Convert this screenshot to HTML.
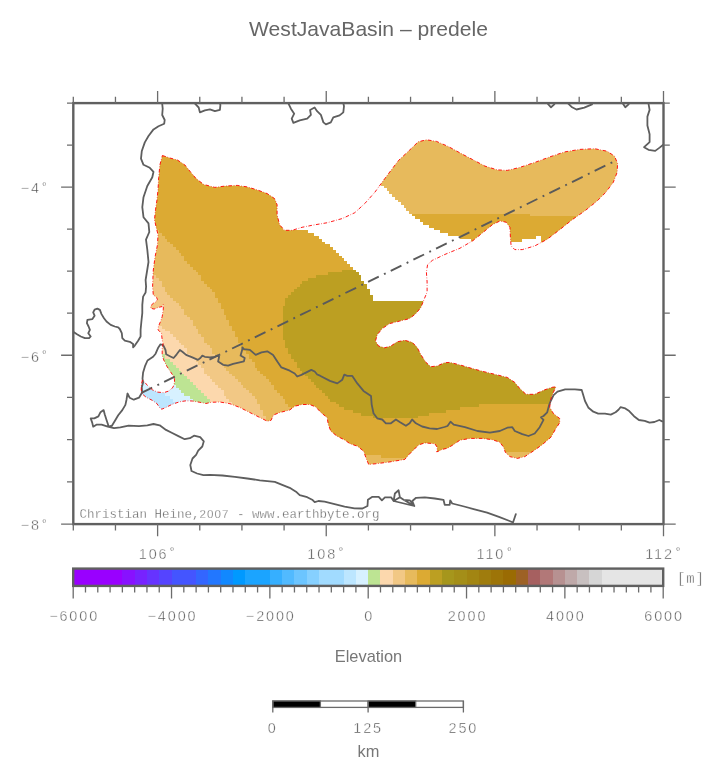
<!DOCTYPE html>
<html lang="en"><head><meta charset="utf-8"><title>WestJavaBasin – predele</title>
<style>html,body{margin:0;padding:0;background:#fff}body{width:722px;height:778px;overflow:hidden}svg{display:block}.m{font-family:"Liberation Mono","DejaVu Sans Mono",monospace;fill:#505050;stroke:#fff;stroke-width:0.55px}.n{font-family:"Liberation Sans","DejaVu Sans",sans-serif;fill:#505050;stroke:#fff;stroke-width:0.42px}.s{font-family:"Liberation Sans","DejaVu Sans",sans-serif;fill:#666}</style></head><body>
<svg width="722" height="778" viewBox="0 0 722 778">
<rect width="722" height="778" fill="#fff"/>
<defs><clipPath id="basin"><path d="M162.4 155.5L169.9 158.0L177.4 160.0L184.9 165.0L189.9 171.2L196.1 178.6L203.6 184.4L214.8 187.4L224.8 186.1L237.2 185.4L247.2 186.9L257.2 189.9L267.2 193.6L274.6 198.6L277.1 204.8L277.1 214.8L279.6 224.8L284.6 230.3L292.1 230.3L302.1 227.3L312.5 225.2L327.4 222.7L342.4 218.5L354.8 212.7L364.8 203.5L374.8 192.3L384.8 178.6L398.3 160.7L409.7 150.0L418.2 141.8L426.5 139.8L436.5 141.4L448.1 146.4L463.1 154.6L472.5 159.5L484.9 166.1L497.4 169.9L507.4 170.4L519.8 167.4L534.8 162.4L549.8 156.9L564.7 151.9L579.7 149.4L594.6 148.7L607.1 151.2L614.6 156.2L617.6 163.6L617.1 172.4L613.3 182.3L605.8 192.3L597.1 201.0L584.7 211.0L572.2 219.7L559.7 229.7L547.3 239.2L534.8 245.9L522.3 249.6L514.8 249.6L511.1 245.9L510.4 237.2L509.9 227.2L506.1 222.2L499.9 221.0L492.4 224.7L482.6 232.8L473.0 240.6L460.0 248.2L445.0 254.4L432.3 260.4L427.6 264.6L426.4 272.1L427.1 282.0L427.1 292.0L423.4 301.1L420.9 307.4L415.9 313.6L409.6 318.6L399.7 321.1L389.7 323.6L382.2 328.6L377.2 334.8L375.5 341.0L378.5 346.0L384.7 347.8L390.9 346.0L397.2 341.8L404.7 340.3L412.1 342.3L417.1 347.3L420.9 354.7L425.8 362.2L430.8 366.7L437.1 366.0L444.5 362.7L450.0 362.4L459.9 364.9L472.4 368.6L484.9 371.9L497.3 374.9L507.3 377.4L514.8 382.4L519.8 388.6L526.0 394.3L534.7 394.3L544.7 389.8L552.2 387.3L555.9 386.8L553.4 392.3L550.9 398.6L549.7 407.3L553.4 413.5L559.7 418.5L559.7 422.7L555.9 428.5L550.9 437.2L542.2 444.7L533.5 450.9L524.8 456.6L517.3 458.4L509.8 456.6L505.3 452.2L503.6 447.2L499.8 442.2L492.4 439.7L482.4 438.4L469.9 438.4L459.9 440.2L452.5 445.2L447.5 448.2L442.2 449.4L436.8 451.9L437.3 447.4L434.8 443.7L424.8 442.9L418.6 444.9L413.6 449.9L408.6 454.9L404.8 459.4L389.9 461.9L377.4 463.6L368.7 464.4L366.2 458.6L363.7 451.2L357.5 446.2L350.0 443.7L344.6 439.9L337.1 436.2L330.9 431.2L328.4 424.9L327.1 417.5L320.9 412.5L315.9 407.0L309.7 404.5L302.2 404.5L294.7 406.2L289.7 410.0L279.8 412.5L273.5 415.0L271.0 420.4L267.3 421.2L259.8 417.5L249.8 412.5L239.9 407.5L229.9 403.7L219.9 402.0L211.0 402.3L206.0 403.5L199.8 402.3L192.3 401.0L186.1 400.8L179.9 401.7L172.4 404.2L166.2 407.3L161.8 409.2L159.9 407.9L156.8 403.5L152.4 400.4L146.2 397.3L142.5 394.2L141.2 389.8L141.5 383.6L142.5 379.9L144.3 381.7L147.5 385.5L152.4 389.8L157.4 392.1L163.7 392.7L168.6 391.1L173.0 387.3L174.6 382.4L174.3 377.4L170.5 371.8L166.8 366.2L163.7 359.9L162.2 354.9L162.2 348.7L163.0 343.7L162.2 339.8L161.4 333.2L158.1 329.9L158.4 326.5L160.5 321.5L162.2 316.6L163.3 309.1L163.3 304.5L162.0 306.6L158.3 307.4L154.1 309.1L150.8 308.2L150.8 305.7L153.3 303.3L155.8 302.0L157.4 299.5L156.6 297.4L153.3 294.9L152.6 286.6L152.9 278.3L153.3 270.0L153.7 267.2L155.0 257.2L157.5 244.7L158.0 234.7L156.2 227.3L154.5 219.8L155.5 209.8L157.0 199.8L158.0 189.9L158.7 177.4L159.9 164.9Z"/></clipPath><clipPath id="frame"><rect x="73.3" y="103.1" width="590.2" height="421"/></clipPath></defs>
<g clip-path="url(#basin)" shape-rendering="crispEdges">
<path fill="#dcaa33" d="M161 152h214v3h-214zM160 155h215v3h-215zM160 158h215v2h-215zM159 160h216v3h-216zM158 163h217v3h-217zM158 166h217v3h-217zM158 169h217v3h-217zM157 172h218v2h-218zM157 174h210v3h-210zM370 174h5v3h-5zM157 177h204v3h-204zM157 180h199v3h-199zM157 183h193v3h-193zM157 186h185v2h-185zM156 188h180v3h-180zM156 191h174v3h-174zM156 194h169v3h-169zM155 197h161v3h-161zM155 200h156v2h-156zM155 202h150v3h-150zM154 205h146v3h-146zM154 208h137v3h-137zM154 211h131v3h-131zM153 214h127v2h-127zM412 214h118v2h-118zM153 216h127v3h-127zM415 216h165v3h-165zM153 219h127v3h-127zM420 219h155v3h-155zM153 222h127v3h-127zM423 222h148v3h-148zM154 225h129v3h-129zM429 225h139v3h-139zM156 228h127v2h-127zM434 228h130v2h-130zM159 230h149v3h-149zM440 230h121v3h-121zM162 233h152v3h-152zM448 233h110v3h-110zM165 236h154v3h-154zM460 236h76v3h-76zM541 236h13v3h-13zM167 239h155v3h-155zM471 239h51v3h-51zM541 239h9v3h-9zM170 242h155v2h-155zM482 242h23v2h-23zM541 242h4v2h-4zM173 244h157v3h-157zM491 244h14v3h-14zM176 247h157v3h-157zM488 247h17v3h-17zM179 250h157v3h-157zM488 250h17v3h-17zM181 253h158v3h-158zM184 256h158v2h-158zM184 258h160v3h-160zM187 261h160v3h-160zM190 264h160v3h-160zM193 267h160v3h-160zM196 270h146v2h-146zM198 272h130v3h-130zM201 275h115v3h-115zM201 278h107v3h-107zM204 281h98v3h-98zM207 284h93v3h-93zM210 287h87v2h-87zM212 289h82v3h-82zM215 292h76v3h-76zM215 295h73v3h-73zM218 298h67v3h-67zM218 301h67v2h-67zM221 303h64v3h-64zM221 306h62v3h-62zM224 309h59v3h-59zM224 312h59v3h-59zM226 315h57v2h-57zM226 317h57v3h-57zM229 320h54v3h-54zM229 323h54v3h-54zM232 326h51v3h-51zM232 329h51v2h-51zM235 331h48v3h-48zM235 334h48v3h-48zM238 337h45v3h-45zM238 340h47v3h-47zM241 343h44v2h-44zM241 345h44v3h-44zM243 348h45v3h-45zM246 351h42v3h-42zM249 354h42v3h-42zM249 357h42v2h-42zM252 359h42v3h-42zM255 362h42v3h-42zM255 365h42v3h-42zM257 368h43v3h-43zM260 371h42v3h-42zM263 374h42v2h-42zM266 376h42v3h-42zM269 379h42v3h-42zM271 382h43v3h-43zM274 385h42v3h-42zM274 388h45v2h-45zM277 390h45v3h-45zM280 393h45v3h-45zM283 396h45v3h-45zM285 399h45v3h-45zM285 402h51v2h-51zM288 404h51v3h-51zM479 404h73v3h-73zM291 407h53v3h-53zM460 407h93v3h-93zM294 410h59v3h-59zM446 410h109v3h-109zM294 413h67v3h-67zM429 413h130v3h-130zM297 416h76v2h-76zM418 416h143v2h-143zM297 418h264v3h-264zM297 421h264v3h-264zM327 424h234v3h-234zM328 427h231v3h-231zM329 430h228v3h-228zM331 433h224v2h-224zM333 435h221v3h-221zM338 438h214v3h-214zM344 441h205v3h-205zM348 444h197v3h-197zM356 447h185v2h-185zM359 449h179v3h-179zM362 452h143v3h-143zM381 455h124v3h-124zM409 458h96v3h-96z"/>
<path fill="#e7ba5c" d="M418 138h20v3h-20zM414 141h31v3h-31zM412 144h38v2h-38zM409 146h191v3h-191zM406 149h205v3h-205zM375 152h240v3h-240zM375 155h242v3h-242zM375 158h243v2h-243zM375 160h244v3h-244zM375 163h244v3h-244zM375 166h244v3h-244zM375 169h244v3h-244zM375 172h244v2h-244zM375 174h243v3h-243zM375 177h242v3h-242zM378 180h238v3h-238zM381 183h234v3h-234zM384 186h228v2h-228zM387 188h224v3h-224zM389 191h220v3h-220zM392 194h214v3h-214zM395 197h208v3h-208zM398 200h202v2h-202zM401 202h197v3h-197zM404 205h190v3h-190zM406 208h185v3h-185zM409 211h178v3h-178zM530 214h53v2h-53zM155 228h1v2h-1zM155 230h4v3h-4zM156 233h6v3h-6zM156 236h9v3h-9zM156 239h11v3h-11zM156 242h14v2h-14zM155 244h18v3h-18zM155 247h21v3h-21zM154 250h25v3h-25zM154 253h27v3h-27zM153 256h31v2h-31zM153 258h31v3h-31zM153 261h34v3h-34zM152 264h38v3h-38zM152 267h41v3h-41zM152 270h44v2h-44zM153 272h45v3h-45zM156 275h45v3h-45zM159 278h42v3h-42zM162 281h42v3h-42zM162 284h45v3h-45zM165 287h45v2h-45zM165 289h47v3h-47zM167 292h48v3h-48zM170 295h45v3h-45zM173 298h45v3h-45zM176 301h42v2h-42zM179 303h42v3h-42zM181 306h40v3h-40zM184 309h40v3h-40zM184 312h40v3h-40zM187 315h39v2h-39zM190 317h36v3h-36zM193 320h36v3h-36zM193 323h36v3h-36zM196 326h36v3h-36zM198 329h34v2h-34zM198 331h37v3h-37zM201 334h34v3h-34zM204 337h34v3h-34zM204 340h34v3h-34zM207 343h34v2h-34zM210 345h31v3h-31zM212 348h31v3h-31zM212 351h34v3h-34zM215 354h34v3h-34zM218 357h31v2h-31zM218 359h34v3h-34zM221 362h34v3h-34zM224 365h31v3h-31zM226 368h31v3h-31zM229 371h31v3h-31zM232 374h31v2h-31zM235 376h31v3h-31zM238 379h31v3h-31zM241 382h30v3h-30zM243 385h31v3h-31zM246 388h28v2h-28zM249 390h28v3h-28zM252 393h28v3h-28zM255 396h28v3h-28zM257 399h28v3h-28zM257 402h28v2h-28zM260 404h28v3h-28zM260 407h31v3h-31zM263 410h31v3h-31zM263 413h31v3h-31zM266 416h31v2h-31zM266 418h31v3h-31zM269 421h28v3h-28zM505 452h29v3h-29zM363 455h18v3h-18zM505 455h25v3h-25zM364 458h45v3h-45zM505 458h18v3h-18zM366 461h34v3h-34zM367 464h13v2h-13z"/>
<path fill="#f2c885" d="M152 272h1v3h-1zM151 275h5v3h-5zM151 278h8v3h-8zM151 281h11v3h-11zM151 284h11v3h-11zM151 287h14v2h-14zM151 289h14v3h-14zM152 292h15v3h-15zM152 295h18v3h-18zM155 298h18v3h-18zM153 301h23v2h-23zM149 303h30v3h-30zM149 306h32v3h-32zM150 309h34v3h-34zM161 312h23v3h-23zM160 315h27v2h-27zM159 317h31v3h-31zM158 320h35v3h-35zM159 323h34v3h-34zM162 326h34v3h-34zM165 329h33v2h-33zM170 331h28v3h-28zM173 334h28v3h-28zM176 337h28v3h-28zM179 340h25v3h-25zM181 343h26v2h-26zM184 345h26v3h-26zM187 348h25v3h-25zM187 351h25v3h-25zM190 354h25v3h-25zM193 357h25v2h-25zM196 359h22v3h-22zM198 362h23v3h-23zM201 365h23v3h-23zM204 368h22v3h-22zM204 371h25v3h-25zM207 374h25v2h-25zM210 376h25v3h-25zM212 379h26v3h-26zM215 382h26v3h-26zM218 385h25v3h-25zM221 388h25v2h-25zM224 390h25v3h-25zM224 393h28v3h-28zM226 396h29v3h-29zM229 399h28v3h-28zM232 402h25v2h-25zM232 404h28v3h-28zM235 407h25v3h-25zM242 410h21v3h-21zM248 413h15v3h-15zM254 416h12v2h-12zM258 418h8v3h-8zM264 421h5v3h-5z"/>
<path fill="#fcd8ad" d="M157 323h2v3h-2zM157 326h5v3h-5zM157 329h8v2h-8zM157 331h13v3h-13zM160 334h13v3h-13zM160 337h16v3h-16zM161 340h18v3h-18zM161 343h20v2h-20zM161 345h23v3h-23zM161 348h26v3h-26zM162 351h25v3h-25zM165 354h25v3h-25zM165 357h28v2h-28zM170 359h26v3h-26zM173 362h25v3h-25zM176 365h25v3h-25zM179 368h25v3h-25zM181 371h23v3h-23zM184 374h23v2h-23zM187 376h23v3h-23zM190 379h22v3h-22zM193 382h22v3h-22zM196 385h22v3h-22zM198 388h23v2h-23zM201 390h23v3h-23zM204 393h20v3h-20zM207 396h19v3h-19zM210 399h19v3h-19zM212 402h20v2h-20zM215 404h17v3h-17zM218 407h17v3h-17z"/>
<path fill="#bde493" d="M161 351h1v3h-1zM161 354h4v3h-4zM161 357h4v2h-4zM162 359h8v3h-8zM163 362h10v3h-10zM164 365h12v3h-12zM166 368h13v3h-13zM168 371h13v3h-13zM170 374h14v2h-14zM172 376h15v3h-15zM173 379h17v3h-17zM173 382h20v3h-20zM176 385h20v3h-20zM179 388h19v2h-19zM181 390h20v3h-20zM184 393h20v3h-20zM190 396h17v3h-17zM193 399h17v3h-17zM196 402h16v2h-16zM198 404h17v3h-17zM198 407h20v3h-20z"/>
<path fill="#d7f1ff" d="M140 379h33v3h-33zM140 382h33v3h-33zM140 385h36v3h-36zM140 388h39v2h-39zM162 390h19v3h-19zM165 393h19v3h-19zM170 396h20v3h-20zM173 399h20v3h-20zM176 402h20v2h-20zM179 404h19v3h-19zM179 407h19v3h-19z"/>
<path fill="#bce6ff" d="M140 390h22v3h-22zM140 393h25v3h-25zM143 396h27v3h-27zM147 399h26v3h-26zM152 402h24v2h-24zM155 404h24v3h-24zM157 407h22v3h-22z"/>
<path fill="#bc9f22" d="M342 270h14v2h-14zM328 272h31v3h-31zM316 275h45v3h-45zM308 278h53v3h-53zM302 281h62v3h-62zM300 284h67v3h-67zM297 287h70v2h-70zM294 289h76v3h-76zM291 292h79v3h-79zM288 295h85v3h-85zM285 298h88v3h-88zM285 301h140v2h-140zM285 303h139v3h-139zM283 306h140v3h-140zM283 309h139v3h-139zM283 312h136v3h-136zM283 315h133v2h-133zM283 317h131v3h-131zM283 320h125v3h-125zM283 323h113v3h-113zM283 326h105v3h-105zM283 329h101v2h-101zM283 331h99v3h-99zM283 334h97v3h-97zM283 337h124v3h-124zM285 340h130v3h-130zM285 343h132v2h-132zM285 345h134v3h-134zM288 348h133v3h-133zM288 351h134v3h-134zM291 354h133v3h-133zM291 357h135v2h-135zM294 359h158v3h-158zM297 362h166v3h-166zM297 365h177v3h-177zM300 368h185v3h-185zM302 371h195v3h-195zM305 374h200v2h-200zM308 376h204v3h-204zM311 379h205v3h-205zM314 382h205v3h-205zM316 385h241v3h-241zM319 388h238v2h-238zM322 390h234v3h-234zM325 393h230v3h-230zM328 396h226v3h-226zM330 399h222v3h-222zM336 402h216v2h-216zM339 404h140v3h-140zM344 407h116v3h-116zM353 410h93v3h-93zM361 413h68v3h-68zM373 416h45v2h-45z"/>
</g>
<g clip-path="url(#frame)" fill="none" stroke="#5e5e5e" stroke-width="1.8" stroke-linejoin="round" stroke-linecap="round">
<path d="M162.2 103.7L162.7 108.7L162.2 115.0L164.7 120.0L164.2 123.7L158.5 126.2L153.5 129.4L148.5 136.0L144.8 142.4L141.8 151.0L141.0 158.6L143.5 164.8L149.8 167.8L153.5 171.8L152.3 177.3L147.3 186.0L143.5 197.2L142.3 207.2L143.5 217.2L148.5 223.4L149.3 232.0L146.0 239.6L147.3 249.6L148.5 262.0L147.3 269.5L145.6 280.0L146.1 286.6L145.6 292.5L143.1 296.6L142.3 304.9L142.3 313.2L141.4 321.5L140.6 329.9L140.6 336.5L138.1 340.7L134.8 345.6L133.1 347.3L133.1 344.0L129.8 341.8L124.8 340.7L122.3 338.2L121.8 333.2L119.8 329.0L118.2 327.4L114.8 326.5L110.7 324.9L106.5 321.5L104.0 318.2L101.5 314.1L99.9 309.9L97.4 308.6L94.6 309.6L93.2 312.4L94.6 315.7L92.4 319.1L87.4 319.9L86.9 323.2L88.6 326.5L89.9 329.9L88.3 333.2L90.7 336.5L89.1 338.2L84.9 338.2L80.8 336.5L76.6 334.0L73.6 331.9M163.0 345.0L160.5 344.3L158.0 348.1L155.6 353.7L153.1 356.8L147.5 360.5L145.0 366.2L143.1 372.4L142.5 378.6L143.1 382.4L141.8 387.3L142.1 392.5L139.0 397.7L133.8 399.7L129.6 397.7L127.5 393.5L126.5 399.7L125.4 404.9L122.3 410.1L118.2 415.3L115.1 420.5L111.9 425.7L108.8 426.7L106.7 420.5L104.7 414.3L103.6 410.1L100.5 412.2L98.4 416.4L94.3 418.4L90.7 418.4L92.2 422.6L93.2 426.7L96.4 424.7L101.6 424.7L107.8 426.7L114.0 428.2L120.3 427.4L128.6 425.7L139.0 426.1L147.3 425.3L153.5 424.0L159.7 425.3L166.0 429.9L172.2 433.0L178.4 436.1L184.7 439.2L189.9 438.2L194.0 435.7L200.2 437.1L203.8 441.3L202.3 446.5L198.2 450.6L196.1 454.8L192.5 458.5L190.3 465.0L191.5 471.0L197.1 473.5L203.4 475.2L209.9 474.8L222.4 475.5L234.9 476.8L247.3 478.5L259.8 480.3L274.8 481.8L282.2 484.8L289.7 487.8L296.0 491.7L299.7 495.2L307.2 497.2L312.2 499.7L314.7 502.2L318.4 501.0L324.6 501.7L334.6 504.2L344.6 506.7L354.5 508.4L362.5 508.5L367.5 506.0L367.9 499.8L372.4 496.8L378.7 496.8L381.9 500.3L384.9 497.3L391.1 497.3L393.6 501.0L399.9 497.3L403.6 499.8L409.8 500.3L414.3 506.0L412.3 501.0L416.1 497.8L424.8 497.3L434.8 498.5L443.5 499.8L444.7 504.8L449.7 504.8L450.2 500.3L452.2 503.5L462.2 506.0L474.6 509.3L487.1 512.7L499.6 517.2L509.6 521.0L513.0 522.5L515.8 514.2M393.6 501.0L394.9 493.5L398.6 490.3L399.9 497.3L403.6 499.8L414.3 506.0L393.6 501.0M163.0 345.0L163.7 346.2L165.5 350.0L166.2 354.3L169.9 356.2L173.6 358.0L176.7 354.3L179.9 350.0L182.4 351.8L186.1 354.9L192.3 357.4L197.9 359.9L200.4 358.0L202.3 355.6L204.8 356.8L209.8 357.4L214.8 356.8L217.3 355.6L219.1 356.8L218.1 361.4L223.1 364.8L228.1 365.6L233.1 363.9L239.7 362.3L243.9 361.4L244.7 358.1L240.6 355.6L242.2 349.8L242.4 347.5L244.0 349.1L249.9 349.9L255.7 354.9L261.5 352.4L267.3 351.3L273.1 354.9L277.3 361.6L281.4 367.4L289.7 370.7L294.7 373.5L297.2 376.5L301.4 374.9L306.4 372.4L311.3 369.9L314.7 371.5L317.2 374.5L320.0 375.7L329.9 380.9L337.3 383.4L342.3 379.7L344.3 374.7L347.3 375.9L352.3 375.9L357.3 383.4L363.5 390.9L371.0 395.9L371.7 404.6L373.5 413.3L377.2 418.3L382.2 419.5L385.9 423.3L390.9 423.3L395.9 419.5L399.7 422.0L405.9 425.8L409.6 423.3L412.1 419.5L415.9 423.3L422.1 426.5L429.6 428.3L437.1 429.0L444.5 427.0L447.5 426.0L450.5 421.7L453.7 424.7L464.9 427.2L477.4 431.0L489.9 432.7L499.8 431.0L507.3 427.7L512.3 427.2L514.8 431.0L522.3 434.2L528.5 436.0L534.7 433.5L539.7 427.2L543.5 419.8L541.0 417.3L543.5 416.0L547.2 412.3L549.2 404.8L550.7 401.0L553.6 395.2L557.5 391.7L565.2 389.4L574.9 389.4L581.7 390.0L583.0 394.2L585.0 401.0L588.5 407.8L593.3 411.7L598.2 413.6L605.0 413.6L610.8 414.6L615.6 412.3L618.5 409.8L620.5 407.2L625.3 408.4L629.2 411.1L634.0 416.2L638.9 420.0L644.7 420.8L649.6 422.7L654.4 422.0L659.3 420.0L662.2 421.4M195.0 103.7L198.7 107.5L199.9 112.4L204.9 110.4L209.9 109.4L214.9 111.2L219.9 109.9L220.4 105.0L219.9 103.0M288.5 103.7L290.9 108.7L294.2 113.7L291.7 118.7L293.4 122.9L299.7 120.4L307.2 118.7L310.9 114.9L310.1 110.0L314.6 107.5L317.1 111.2L320.9 114.9L323.4 122.4L325.9 124.4L330.8 122.4L333.3 117.4L339.6 115.4L343.3 112.4L344.0 106.2L343.3 103.0M547.7 103.7L551.0 107.3L554.3 104.4M568.3 103.7L572.1 107.3L576.5 109.5L584.3 107.7L592.0 104.4M623.0 103.7L625.3 107.3L628.6 104.4M648.5 103.7L649.6 109.9L647.4 116.6L647.4 125.5L649.6 134.3L649.6 142.1L644.1 147.2L648.5 149.8L655.2 150.9L659.6 147.6L662.9 145.0"/>
</g>
<path d="M141.5 392.9L612.5 162.2" fill="none" stroke="#5a5a5a" stroke-width="1.9" stroke-dasharray="11.9 5.8 1.9 5.63"/>
<path d="M162.4 155.5L169.9 158.0L177.4 160.0L184.9 165.0L189.9 171.2L196.1 178.6L203.6 184.4L214.8 187.4L224.8 186.1L237.2 185.4L247.2 186.9L257.2 189.9L267.2 193.6L274.6 198.6L277.1 204.8L277.1 214.8L279.6 224.8L284.6 230.3L292.1 230.3L302.1 227.3L312.5 225.2L327.4 222.7L342.4 218.5L354.8 212.7L364.8 203.5L374.8 192.3L384.8 178.6L398.3 160.7L409.7 150.0L418.2 141.8L426.5 139.8L436.5 141.4L448.1 146.4L463.1 154.6L472.5 159.5L484.9 166.1L497.4 169.9L507.4 170.4L519.8 167.4L534.8 162.4L549.8 156.9L564.7 151.9L579.7 149.4L594.6 148.7L607.1 151.2L614.6 156.2L617.6 163.6L617.1 172.4L613.3 182.3L605.8 192.3L597.1 201.0L584.7 211.0L572.2 219.7L559.7 229.7L547.3 239.2L534.8 245.9L522.3 249.6L514.8 249.6L511.1 245.9L510.4 237.2L509.9 227.2L506.1 222.2L499.9 221.0L492.4 224.7L482.6 232.8L473.0 240.6L460.0 248.2L445.0 254.4L432.3 260.4L427.6 264.6L426.4 272.1L427.1 282.0L427.1 292.0L423.4 301.1L420.9 307.4L415.9 313.6L409.6 318.6L399.7 321.1L389.7 323.6L382.2 328.6L377.2 334.8L375.5 341.0L378.5 346.0L384.7 347.8L390.9 346.0L397.2 341.8L404.7 340.3L412.1 342.3L417.1 347.3L420.9 354.7L425.8 362.2L430.8 366.7L437.1 366.0L444.5 362.7L450.0 362.4L459.9 364.9L472.4 368.6L484.9 371.9L497.3 374.9L507.3 377.4L514.8 382.4L519.8 388.6L526.0 394.3L534.7 394.3L544.7 389.8L552.2 387.3L555.9 386.8L553.4 392.3L550.9 398.6L549.7 407.3L553.4 413.5L559.7 418.5L559.7 422.7L555.9 428.5L550.9 437.2L542.2 444.7L533.5 450.9L524.8 456.6L517.3 458.4L509.8 456.6L505.3 452.2L503.6 447.2L499.8 442.2L492.4 439.7L482.4 438.4L469.9 438.4L459.9 440.2L452.5 445.2L447.5 448.2L442.2 449.4L436.8 451.9L437.3 447.4L434.8 443.7L424.8 442.9L418.6 444.9L413.6 449.9L408.6 454.9L404.8 459.4L389.9 461.9L377.4 463.6L368.7 464.4L366.2 458.6L363.7 451.2L357.5 446.2L350.0 443.7L344.6 439.9L337.1 436.2L330.9 431.2L328.4 424.9L327.1 417.5L320.9 412.5L315.9 407.0L309.7 404.5L302.2 404.5L294.7 406.2L289.7 410.0L279.8 412.5L273.5 415.0L271.0 420.4L267.3 421.2L259.8 417.5L249.8 412.5L239.9 407.5L229.9 403.7L219.9 402.0L211.0 402.3L206.0 403.5L199.8 402.3L192.3 401.0L186.1 400.8L179.9 401.7L172.4 404.2L166.2 407.3L161.8 409.2L159.9 407.9L156.8 403.5L152.4 400.4L146.2 397.3L142.5 394.2L141.2 389.8L141.5 383.6L142.5 379.9L144.3 381.7L147.5 385.5L152.4 389.8L157.4 392.1L163.7 392.7L168.6 391.1L173.0 387.3L174.6 382.4L174.3 377.4L170.5 371.8L166.8 366.2L163.7 359.9L162.2 354.9L162.2 348.7L163.0 343.7L162.2 339.8L161.4 333.2L158.1 329.9L158.4 326.5L160.5 321.5L162.2 316.6L163.3 309.1L163.3 304.5L162.0 306.6L158.3 307.4L154.1 309.1L150.8 308.2L150.8 305.7L153.3 303.3L155.8 302.0L157.4 299.5L156.6 297.4L153.3 294.9L152.6 286.6L152.9 278.3L153.3 270.0L153.7 267.2L155.0 257.2L157.5 244.7L158.0 234.7L156.2 227.3L154.5 219.8L155.5 209.8L157.0 199.8L158.0 189.9L158.7 177.4L159.9 164.9Z" fill="none" stroke="#ff0000" stroke-width="0.9" stroke-dasharray="3.6 1.8 0.6 1.7"/>
<g fill="none" stroke="#606060">
<rect x="73.3" y="103.1" width="590.2" height="421.0" stroke-width="2.4"/>
<path d="M73.30 103.1v-6.3M73.30 524.1v6.3M115.46 103.1v-6.3M115.46 524.1v6.3M157.61 103.1v-12.2M157.61 524.1v12.2M199.77 103.1v-6.3M199.77 524.1v6.3M241.93 103.1v-6.3M241.93 524.1v6.3M284.09 103.1v-6.3M284.09 524.1v6.3M326.24 103.1v-12.2M326.24 524.1v12.2M368.40 103.1v-6.3M368.40 524.1v6.3M410.56 103.1v-6.3M410.56 524.1v6.3M452.71 103.1v-6.3M452.71 524.1v6.3M494.87 103.1v-12.2M494.87 524.1v12.2M537.03 103.1v-6.3M537.03 524.1v6.3M579.19 103.1v-6.3M579.19 524.1v6.3M621.34 103.1v-6.3M621.34 524.1v6.3M663.50 103.1v-12.2M663.50 524.1v12.2M73.3 103.10h-6.3M663.5 103.10h6.3M73.3 145.06h-6.3M663.5 145.06h6.3M73.3 187.04h-12.2M663.5 187.04h12.2M73.3 229.05h-6.3M663.5 229.05h6.3M73.3 271.09h-6.3M663.5 271.09h6.3M73.3 313.16h-6.3M663.5 313.16h6.3M73.3 355.26h-12.2M663.5 355.26h12.2M73.3 397.41h-6.3M663.5 397.41h6.3M73.3 439.59h-6.3M663.5 439.59h6.3M73.3 481.82h-6.3M663.5 481.82h6.3M73.3 524.10h-12.2M663.5 524.10h12.2" stroke-width="1.3" stroke="#6c6c6c"/>
</g>
<g class="n" font-size="14.4" letter-spacing="1.89">
<text x="153.6" y="558.6" text-anchor="middle">106</text>
<text x="172.2" y="556.0" text-anchor="middle" font-size="12" letter-spacing="0" class="m" style="stroke-width:0.25px">°</text>
<text x="322.2" y="558.6" text-anchor="middle">108</text>
<text x="340.8" y="556.0" text-anchor="middle" font-size="12" letter-spacing="0" class="m" style="stroke-width:0.25px">°</text>
<text x="490.9" y="558.6" text-anchor="middle">110</text>
<text x="509.4" y="556.0" text-anchor="middle" font-size="12" letter-spacing="0" class="m" style="stroke-width:0.25px">°</text>
<text x="659.5" y="558.6" text-anchor="middle">112</text>
<text x="678.1" y="556.0" text-anchor="middle" font-size="12" letter-spacing="0" class="m" style="stroke-width:0.25px">°</text>
<text x="40.9" y="193.2" text-anchor="end">−4</text>
<text x="44.4" y="190.6" text-anchor="middle" font-size="12" letter-spacing="0" class="m" style="stroke-width:0.25px">°</text>
<text x="40.9" y="361.5" text-anchor="end">−6</text>
<text x="44.4" y="358.9" text-anchor="middle" font-size="12" letter-spacing="0" class="m" style="stroke-width:0.25px">°</text>
<text x="40.9" y="530.3" text-anchor="end">−8</text>
<text x="44.4" y="527.7" text-anchor="middle" font-size="12" letter-spacing="0" class="m" style="stroke-width:0.25px">°</text>
</g>
<text class="m" x="79.5" y="517.8" font-size="12.5" style="stroke-width:0.3px;fill:#606060">Christian Heine,<tspan style="font-family:'Liberation Sans',sans-serif" font-size="11.6" letter-spacing="1.05">2007</tspan> - www.earthbyte.org</text>
<text class="s" x="368.5" y="36" font-size="21.1" text-anchor="middle">WestJavaBasin – predele</text>
<g shape-rendering="crispEdges">
<rect x="73.20" y="568.6" width="12.59" height="17.3" fill="#9900ff"/>
<rect x="85.49" y="568.6" width="12.59" height="17.3" fill="#9900ff"/>
<rect x="97.78" y="568.6" width="12.59" height="17.3" fill="#9900ff"/>
<rect x="110.08" y="568.6" width="12.59" height="17.3" fill="#9900ff"/>
<rect x="122.37" y="568.6" width="12.59" height="17.3" fill="#8811ff"/>
<rect x="134.66" y="568.6" width="12.59" height="17.3" fill="#7722ff"/>
<rect x="146.95" y="568.6" width="12.59" height="17.3" fill="#6633ff"/>
<rect x="159.24" y="568.6" width="12.59" height="17.3" fill="#5544ff"/>
<rect x="171.53" y="568.6" width="12.59" height="17.3" fill="#4455ff"/>
<rect x="183.82" y="568.6" width="12.59" height="17.3" fill="#4455ff"/>
<rect x="196.12" y="568.6" width="12.59" height="17.3" fill="#3366ff"/>
<rect x="208.41" y="568.6" width="12.59" height="17.3" fill="#2277ff"/>
<rect x="220.70" y="568.6" width="12.59" height="17.3" fill="#1188ff"/>
<rect x="232.99" y="568.6" width="12.59" height="17.3" fill="#0099ff"/>
<rect x="245.28" y="568.6" width="12.59" height="17.3" fill="#1ba4ff"/>
<rect x="257.57" y="568.6" width="12.59" height="17.3" fill="#1ba4ff"/>
<rect x="269.87" y="568.6" width="12.59" height="17.3" fill="#36afff"/>
<rect x="282.16" y="568.6" width="12.59" height="17.3" fill="#51baff"/>
<rect x="294.45" y="568.6" width="12.59" height="17.3" fill="#6cc5ff"/>
<rect x="306.74" y="568.6" width="12.59" height="17.3" fill="#86d0ff"/>
<rect x="319.03" y="568.6" width="12.59" height="17.3" fill="#a1dbff"/>
<rect x="331.32" y="568.6" width="12.59" height="17.3" fill="#a1dbff"/>
<rect x="343.62" y="568.6" width="12.59" height="17.3" fill="#bce6ff"/>
<rect x="355.91" y="568.6" width="12.59" height="17.3" fill="#d7f1ff"/>
<rect x="368.20" y="568.6" width="12.59" height="17.3" fill="#bde493"/>
<rect x="380.49" y="568.6" width="12.59" height="17.3" fill="#fcd8ad"/>
<rect x="392.78" y="568.6" width="12.59" height="17.3" fill="#f2c885"/>
<rect x="405.07" y="568.6" width="12.59" height="17.3" fill="#e7ba5c"/>
<rect x="417.37" y="568.6" width="12.59" height="17.3" fill="#dcaa33"/>
<rect x="429.66" y="568.6" width="12.59" height="17.3" fill="#bc9f22"/>
<rect x="441.95" y="568.6" width="12.59" height="17.3" fill="#a6961c"/>
<rect x="454.24" y="568.6" width="12.59" height="17.3" fill="#a48e18"/>
<rect x="466.53" y="568.6" width="12.59" height="17.3" fill="#a28512"/>
<rect x="478.82" y="568.6" width="12.59" height="17.3" fill="#9f7c0d"/>
<rect x="491.12" y="568.6" width="12.59" height="17.3" fill="#9d7408"/>
<rect x="503.41" y="568.6" width="12.59" height="17.3" fill="#9a6b03"/>
<rect x="515.70" y="568.6" width="12.59" height="17.3" fill="#9d6125"/>
<rect x="527.99" y="568.6" width="12.59" height="17.3" fill="#a66060"/>
<rect x="540.28" y="568.6" width="12.59" height="17.3" fill="#b27878"/>
<rect x="552.58" y="568.6" width="12.59" height="17.3" fill="#b79191"/>
<rect x="564.87" y="568.6" width="12.59" height="17.3" fill="#bfa9a9"/>
<rect x="577.16" y="568.6" width="12.59" height="17.3" fill="#c8c0c0"/>
<rect x="589.45" y="568.6" width="12.59" height="17.3" fill="#d6d6d6"/>
<rect x="601.74" y="568.6" width="12.59" height="17.3" fill="#e5e5e5"/>
<rect x="614.03" y="568.6" width="12.59" height="17.3" fill="#e5e5e5"/>
<rect x="626.33" y="568.6" width="12.59" height="17.3" fill="#e5e5e5"/>
<rect x="638.62" y="568.6" width="12.59" height="17.3" fill="#e5e5e5"/>
<rect x="650.91" y="568.6" width="12.59" height="17.3" fill="#e5e5e5"/>
</g>
<g fill="none" stroke="#606060">
<rect x="73.2" y="568.6" width="590.0" height="17.3" stroke-width="2.4"/>
<path d="M73.20 586.9v11.5M85.49 586.9v5.5M97.78 586.9v5.5M110.08 586.9v5.5M122.37 586.9v5.5M134.66 586.9v5.5M146.95 586.9v5.5M159.24 586.9v5.5M171.53 586.9v11.5M183.82 586.9v5.5M196.12 586.9v5.5M208.41 586.9v5.5M220.70 586.9v5.5M232.99 586.9v5.5M245.28 586.9v5.5M257.57 586.9v5.5M269.87 586.9v11.5M282.16 586.9v5.5M294.45 586.9v5.5M306.74 586.9v5.5M319.03 586.9v5.5M331.32 586.9v5.5M343.62 586.9v5.5M355.91 586.9v5.5M368.20 586.9v11.5M380.49 586.9v5.5M392.78 586.9v5.5M405.07 586.9v5.5M417.37 586.9v5.5M429.66 586.9v5.5M441.95 586.9v5.5M454.24 586.9v5.5M466.53 586.9v11.5M478.82 586.9v5.5M491.12 586.9v5.5M503.41 586.9v5.5M515.70 586.9v5.5M527.99 586.9v5.5M540.28 586.9v5.5M552.58 586.9v5.5M564.87 586.9v11.5M577.16 586.9v5.5M589.45 586.9v5.5M601.74 586.9v5.5M614.03 586.9v5.5M626.33 586.9v5.5M638.62 586.9v5.5M650.91 586.9v5.5M663.20 586.9v11.5" stroke-width="1.3" stroke="#6c6c6c"/>
</g>
<g class="n" font-size="14.4" letter-spacing="1.89" text-anchor="middle">
<text x="74.1" y="620.9">−6000</text>
<text x="172.5" y="620.9">−4000</text>
<text x="270.8" y="620.9">−2000</text>
<text x="369.1" y="620.9">0</text>
<text x="467.5" y="620.9">2000</text>
<text x="565.8" y="620.9">4000</text>
<text x="664.1" y="620.9">6000</text>
</g>
<text class="m" x="676.9" y="583.3" font-size="14" letter-spacing="0.9" style="stroke-width:0.35px;fill:#666">[m]</text>
<text class="s" x="368.5" y="662" font-size="16.4" text-anchor="middle" style="fill:#777">Elevation</text>
<g stroke="#6a6a6a" stroke-width="1.3">
<rect x="272.8" y="701.0" width="190.6" height="6.4" fill="#fff"/>
<rect x="272.8" y="701.0" width="47.6" height="6.4" fill="#000"/>
<rect x="368.1" y="701.0" width="47.6" height="6.4" fill="#000"/>
<path d="M272.8 701.0V712.5M368.1 701.0V712.5M463.4 701.0V712.5" fill="none"/>
</g>
<g class="n" font-size="14.4" letter-spacing="1.89" text-anchor="middle">
<text x="272.8" y="732.9">0</text><text x="368.1" y="732.9">125</text><text x="463.4" y="732.9">250</text>
</g>
<text class="s" x="368.5" y="757" font-size="16.4" text-anchor="middle" style="fill:#777">km</text>
</svg></body></html>
